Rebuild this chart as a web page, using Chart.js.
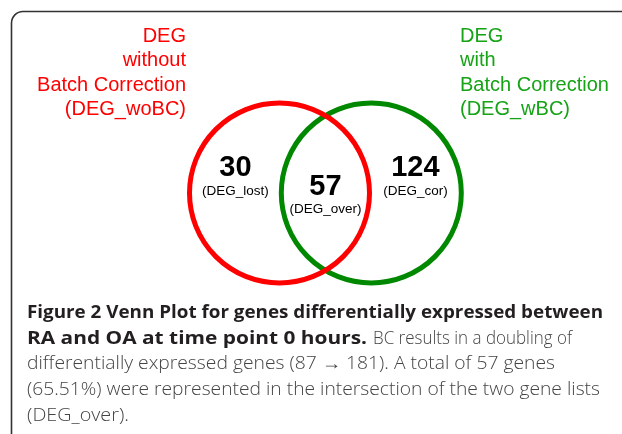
<!DOCTYPE html>
<html>
<head>
<meta charset="utf-8">
<script src="https://cdn.jsdelivr.net/npm/chart.js@4.4.1/dist/chart.umd.min.js"></script>
<style>
  html, body { margin: 0; padding: 0; background: #fff; }
  #wrap { width: 622px; height: 434px; }
</style>
</head>
<body>
<div id="wrap"><canvas id="vennChart" width="622" height="434"></canvas></div>
<script>
// sets (equal-size circles, radius 1 in data units)
const setNames = [
  ["DEG", "without", "Batch Correction", "(DEG_woBC)"],
  ["DEG", "with", "Batch Correction", "(DEG_wBC)"]
];
const setCenters = [0, 1.02];
const setRadius = 1;
const setColors = ["#ff0000", "#008800"];
const setTextColors = ["#ff0000", "#16a316"];

// regions: only woBC, overlap, only wBC
const regionCounts = [30, 57, 124];
const regionNames = ["(DEG_lost)", "(DEG_over)", "(DEG_cor)"];

// caption segments: text, bold
const captionLines = [
  [["Figure 2 Venn Plot for genes differentially expressed between", true]],
  [["RA and OA at time point 0 hours.", true], ["BC results in a doubling of", false]],
  [["differentially expressed genes (87 \u2192 181). A total of 57 genes", false]],
  [["(65.51%) were represented in the intersection of the two gene lists", false]],
  [["(DEG_over).", false]]
];
// left/right x of each caption segment (layout)
const captionSpan = [
  [[27, 603]],
  [[27, 367], [373, 572]],
  [[27, 555]],
  [[27, 600]],
  [[27, 129]]
];

const mid = (setCenters[0] + setCenters[1]) / 2;
const regionX = [mid - setRadius, mid, mid + setRadius];
const regionY = [0.28, 0.07, 0.28];

const circleData = setCenters.map((c, i) => ({
  label: setNames[i].join(" "),
  type: "scatter",
  data: [{ x: c, y: 0 }],
  pointRadius: ctx => {
    const sx = ctx.chart.scales.x;
    return sx.getPixelForValue(setRadius) - sx.getPixelForValue(0);
  },
  pointBackgroundColor: "rgba(0,0,0,0)",
  pointBorderColor: setColors[i],
  pointBorderWidth: 5,
  order: i === 0 ? 0 : 1
}));

const regionData = {
  label: "regions",
  type: "scatter",
  data: regionX.map((x, i) => ({ x, y: regionY[i] })),
  pointRadius: 0,
  order: 2
};

const vennText = {
  id: "vennText",
  afterDraw(chart) {
    const ctx = chart.ctx;
    ctx.save();

    // frame
    ctx.strokeStyle = "#333";
    ctx.lineWidth = 1.6;
    ctx.beginPath();
    ctx.moveTo(11.5, 434);
    ctx.lineTo(11.5, 23);
    ctx.arcTo(11.5, 11.5, 23, 11.5, 11.5);
    ctx.lineTo(622, 11.5);
    ctx.stroke();

    // set labels
    ctx.font = "20px 'Liberation Sans', Arial, sans-serif";
    ctx.textBaseline = "middle";
    setNames.forEach((lines, i) => {
      ctx.fillStyle = setTextColors[i];
      ctx.textAlign = i === 0 ? "right" : "left";
      const xx = i === 0 ? 186 : 460;
      lines.forEach((t, j) => ctx.fillText(t, xx, 36 + j * 24.5));
    });

    // region counts
    const meta = chart.getDatasetMeta(2);
    ctx.fillStyle = "#000";
    ctx.textAlign = "center";
    meta.data.forEach((pt, i) => {
      ctx.font = "bold 29px 'Liberation Sans', Arial, sans-serif";
      ctx.fillText(String(regionCounts[i]), pt.x, pt.y);
      ctx.font = "13.5px 'Liberation Sans', Arial, sans-serif";
      ctx.fillText(regionNames[i], pt.x, pt.y + 23);
    });

    // caption
    const fam = "'Open Sans', 'Noto Sans', sans-serif";
    ctx.textAlign = "left";
    ctx.textBaseline = "alphabetic";
    captionLines.forEach((segs, j) => {
      segs.forEach(([t, bold], k) => {
        const [x0, x1] = captionSpan[j][k];
        ctx.font = bold ? "bold 17px " + fam : "300 18px " + fam;
        ctx.fillStyle = bold ? "#231f20" : "#444";
        const w = ctx.measureText(t).width;
        ctx.save();
        ctx.translate(x0, 318 + j * 25.7);
        ctx.scale((x1 - x0) / w, 1);
        ctx.fillText(t, 0, 0);
        ctx.restore();
      });
    });
    ctx.restore();
  }
};

new Chart(document.getElementById("vennChart"), {
  type: "scatter",
  data: { datasets: [...circleData, regionData] },
  options: {
    responsive: false,
    animation: false,
    devicePixelRatio: 1,
    events: [],
    layout: { padding: 0 },
    clip: false,
    scales: {
      x: { display: false, min: -279.5 / 90, max: (622 - 279.5) / 90 },
      y: { display: false, min: -(434 - 193) / 90, max: 193 / 90 }
    },
    plugins: {
      legend: { display: false },
      tooltip: { enabled: false }
    }
  },
  plugins: [vennText]
});
</script>
</body>
</html>
